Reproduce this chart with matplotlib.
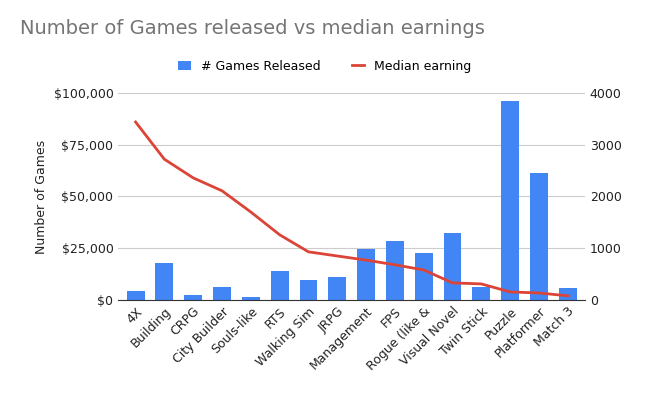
import matplotlib.pyplot as plt
import numpy as np
from matplotlib.ticker import FuncFormatter

genres = ["4X", "Building", "CRPG", "City Builder", "Souls-like", "RTS", "Walking Sim",
          "JRPG", "Management", "FPS", "Rogue (like &", "Visual Novel", "Twin Stick",
          "Puzzle", "Platformer", "Match 3"]
games_released = [4300, 17900, 2400, 6300, 1400, 14000, 9700, 11100, 24600, 28500,
                  22700, 32400, 6300, 96100, 61400, 5800]
median_earning = [3440, 2720, 2360, 2110, 1700, 1260, 930, 850, 770, 680, 580, 330,
                  310, 155, 135, 80]

fig = plt.figure(figsize=(6.5, 4.01), dpi=100)
ax = fig.add_axes([0.182, 0.252, 0.718, 0.516])
ax2 = ax.twinx()

x = np.arange(len(genres))
ax.bar(x, games_released, width=0.62, color="#4285f4", label="# Games Released", zorder=2)
ax2.plot(x, median_earning, color="#db4437", lw=2, label="Median earning", zorder=3)

ax.set_ylim(0, 100000)
ax2.set_ylim(0, 4000)
ax.set_yticks([0, 25000, 50000, 75000, 100000])
ax2.set_yticks([0, 1000, 2000, 3000, 4000])
ax.yaxis.set_major_formatter(FuncFormatter(lambda v, p: "${:,.0f}".format(v)))
ax.set_xlim(-0.6, len(genres) - 0.4)
ax.set_xticks(x)
ax.set_xticklabels(genres, rotation=45, ha="right", rotation_mode="anchor", fontsize=9, color="#222222")
ax.grid(axis="y", color="#cccccc", lw=0.8, zorder=0)
ax.set_axisbelow(True)
for a in (ax, ax2):
    for s in a.spines.values():
        s.set_visible(False)
    a.tick_params(length=0, labelsize=9, colors="#222222")
ax.spines["bottom"].set_visible(True)
ax.spines["bottom"].set_color("#333333")
ax.set_ylabel("Number of Games", fontsize=9, color="#222222")

fig.text(0.03, 0.915, "Number of Games released vs median earnings", fontsize=14, color="#757575")
h1, l1 = ax.get_legend_handles_labels()
h2, l2 = ax2.get_legend_handles_labels()
fig.legend(h1 + h2, l1 + l2, loc="center", bbox_to_anchor=(0.5, 0.835), ncol=2,
           frameon=False, fontsize=9, handlelength=1.0, columnspacing=2.5)

fig.savefig("out.png")
